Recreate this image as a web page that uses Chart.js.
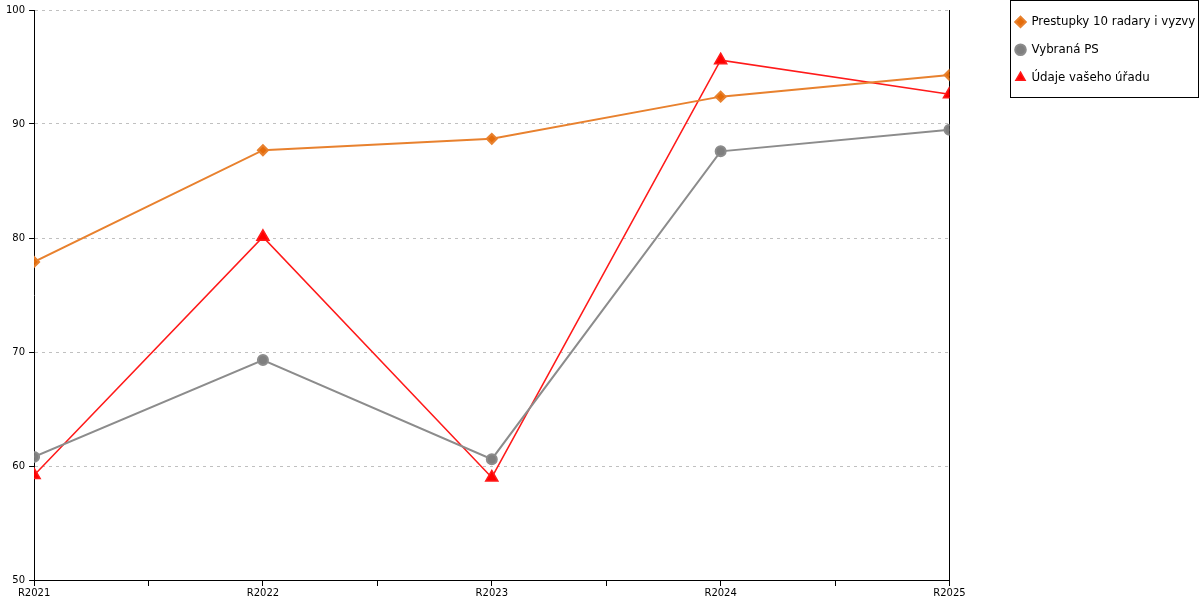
<!DOCTYPE html>
<html>
<head>
<meta charset="utf-8">
<script src="https://cdn.jsdelivr.net/npm/chart.js@4"></script>
<style>
  html, body { margin: 0; padding: 0; background: #fff; }
  #wrap { width: 1200px; height: 600px; }
</style>
</head>
<body>
<div id="wrap"><canvas id="graf"></canvas></div>
<script>
const roky = ["R2021", "R2022", "R2023", "R2024", "R2025"];
const prestupky = [77.9, 87.7, 88.7, 92.4, 94.3];
const vybranaPS = [60.8, 69.3, 60.6, 87.6, 89.5];
const vasUrad = [59.2, 80.1, 59.0, 95.6, 92.6];
const yTicks = [50, 60, 70, 80, 90, 100];

const body = (arr) => arr.map((v, i) => ({ x: i, y: v }));

// ramecek okolo legendy
const ramecek = {
    id: "ramecek",
    afterDraw(chart) {
        const lg = chart.legend;
        if (!lg || !lg.legendHitBoxes.length) return;
        const first = lg.legendHitBoxes[0];
        const last = lg.legendHitBoxes[lg.legendHitBoxes.length - 1];
        const c = chart.ctx;
        const x0 = Math.round(first.left - 6) + 0.5;
        const x1 = chart.width - 1.5;
        const y1 = Math.round(last.top + last.height + 14) + 0.5;
        c.save();
        c.strokeStyle = "#000";
        c.lineWidth = 1;
        c.strokeRect(x0, 0.5, x1 - x0, y1 - 0.5);
        c.restore();
    }
};

const graf = document.getElementById("graf");

new Chart(graf, {
    type: "line",
    data: {
        datasets: [{
            label: "Prestupky 10 radary i vyzvy",
            data: body(prestupky),
            borderColor: "#E8812E",
            backgroundColor: "#E46C0A",
            pointStyle: "rectRot",
            pointRadius: 5,
            borderWidth: 2
        },
        {
            label: "Vybraná PS",
            data: body(vybranaPS),
            borderColor: "#8C8C8C",
            backgroundColor: "#7F7F7F",
            pointStyle: "circle",
            pointRadius: 5,
            borderWidth: 2
        },
        {
            label: "Údaje vašeho úřadu",
            data: body(vasUrad),
            borderColor: "#FF1A1A",
            backgroundColor: "#FF0000",
            pointStyle: "triangle",
            pointRadius: 7,
            borderWidth: 1.5
        }]
    },
    options: {
        responsive: true,
        maintainAspectRatio: false,
        animation: false,
        layout: { padding: { top: 0, right: 1, left: 2, bottom: 0 } },
        elements: {
            line: { tension: 0 },
            point: { borderWidth: 0, hoverRadius: 6 }
        },
        plugins: {
            tooltip: { enabled: false },
            legend: {
                position: "right",
                align: "start",
                labels: {
                    usePointStyle: true,
                    boxWidth: 10,
                    boxHeight: 7.5,
                    padding: 16,
                    color: "#000",
                    font: { family: "DejaVu Sans", size: 11.8 }
                }
            }
        },
        scales: {
            x: {
                type: "linear",
                min: 0,
                max: 4,
                ticks: {
                    stepSize: 0.5,
                    autoSkip: false,
                    maxRotation: 0,
                    padding: 1,
                    color: "#000",
                    font: { family: "DejaVu Sans", size: 10, lineHeight: 1.2 },
                    callback: (v) => Number.isInteger(v) ? roky[v] : ""
                },
                grid: {
                    color: (ctx) => (ctx.tick && ctx.tick.value === 4) ? "#000" : "rgba(0,0,0,0)",
                    tickColor: "#000",
                    tickLength: 6,
                    lineWidth: 1
                },
                border: { color: "#000", width: 1 }
            },
            x2: {
                type: "linear",
                position: "top",
                min: 0,
                max: 4,
                ticks: { display: false },
                grid: { display: false },
                border: { display: false },
                afterFit: (s) => { s.height = 10; }
            },
            y: {
                min: 50,
                max: 100,
                afterBuildTicks: (s) => { s.ticks = yTicks.map(v => ({ value: v })); },
                ticks: {
                    padding: 4,
                    color: "#000",
                    font: { family: "DejaVu Sans", size: 10 }
                },
                grid: {
                    color: "#C0C0C0",
                    tickColor: "#000",
                    tickLength: 5
                },
                border: { color: "#000", width: 1, dash: [3, 4] }
            },
            y2: {
                position: "right",
                min: 50,
                max: 100,
                ticks: { display: false },
                grid: { display: false },
                border: { color: "#000", width: 1 },
                afterFit: (s) => { s.width = 50; }
            }
        }
    },
    plugins: [ramecek]
});
</script>
</body>
</html>
